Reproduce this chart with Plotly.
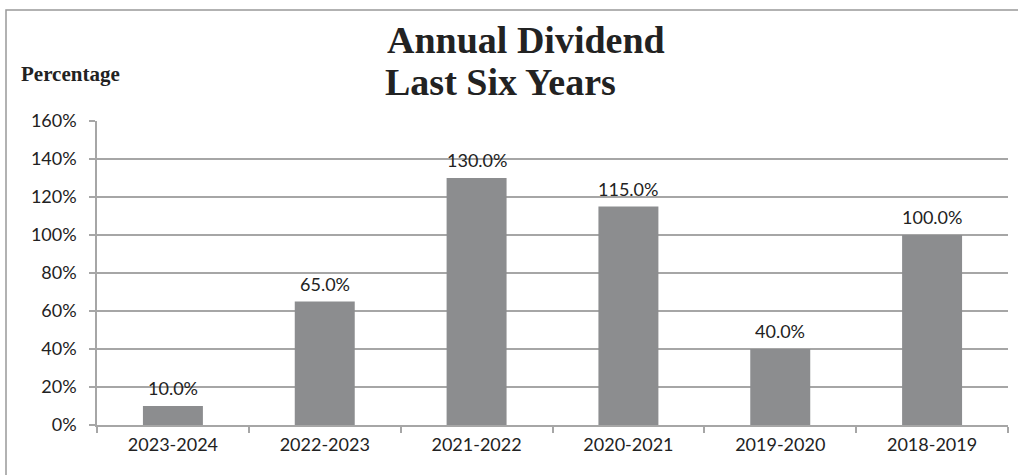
import plotly.graph_objects as go

years = ["2023-2024", "2022-2023", "2021-2022", "2020-2021", "2019-2020", "2018-2019"]
dividend_pct = [10.0, 65.0, 130.0, 115.0, 40.0, 100.0]

W, H = 1018, 475
L, R, T, B = 97, 10, 121, 50
pw, ph = W - L - R, H - T - B


def px_x(x):
    return (x - L) / pw


def px_y(y):
    return 1 + (T - y) / ph


grid = "#a6a6a6"
sans = "Lato, 'DejaVu Sans', sans-serif"
serif = "'Liberation Serif', 'Times New Roman', serif"

fig = go.Figure(go.Bar(
    x=years, y=dividend_pct,
    marker=dict(color="#8c8d8f", line=dict(width=0)),
    width=0.395,
    hoverinfo="skip",
))

# value labels above each bar
for yr, v in zip(years, dividend_pct):
    fig.add_annotation(x=yr, y=v, text=f"{v:.1f}%", showarrow=False,
                       yanchor="bottom", yshift=5,
                       font=dict(family=sans, size=18, color="#222"))

fig.update_layout(
    width=W, height=H,
    margin=dict(l=L, r=R, t=T, b=B),
    plot_bgcolor="white", paper_bgcolor="white",
    showlegend=False,
    xaxis=dict(
        type="category", tickson="boundaries", ticks="outside", ticklen=6,
        tickcolor=grid, tickwidth=1.5, showgrid=False,
        showline=True, linecolor=grid, linewidth=1.5,
        tickfont=dict(family=sans, size=18, color="#222"),
        ticklabelstandoff=3,
        automargin=False,
    ),
    yaxis=dict(
        range=[0, 160], dtick=20, ticksuffix="%",
        showgrid=True, gridcolor=grid, gridwidth=1.5,
        ticks="outside", ticklen=6, tickcolor=grid, tickwidth=1.5,
        showline=True, linecolor=grid, linewidth=1.5,
        zeroline=False,
        tickfont=dict(family=sans, size=18, color="#222"),
        ticklabelstandoff=9,
        automargin=False,
    ),
)

# outer chart border (right and bottom edges fall outside the picture)
fig.add_shape(type="rect", xref="paper", yref="paper",
              x0=px_x(6), x1=px_x(1080), y0=px_y(540), y1=px_y(10),
              line=dict(color="#999999", width=1.5), layer="below")

fig.add_annotation(text="<b>Annual Dividend</b>", xref="paper", yref="paper",
                   x=px_x(385), y=px_y(40), xanchor="left", yanchor="middle",
                   showarrow=False, font=dict(family=serif, size=38, color="#222"))
fig.add_annotation(text="<b>Last Six Years</b>", xref="paper", yref="paper",
                   x=px_x(383), y=px_y(82), xanchor="left", yanchor="middle",
                   showarrow=False, font=dict(family=serif, size=38, color="#222"))
fig.add_annotation(text="<b>Percentage</b>", xref="paper", yref="paper",
                   x=px_x(19), y=px_y(74), xanchor="left", yanchor="middle",
                   showarrow=False, font=dict(family=serif, size=21, color="#222"))

fig.write_html("out.html", config={"displayModeBar": False},
               post_script="document.body.style.margin='0';")
